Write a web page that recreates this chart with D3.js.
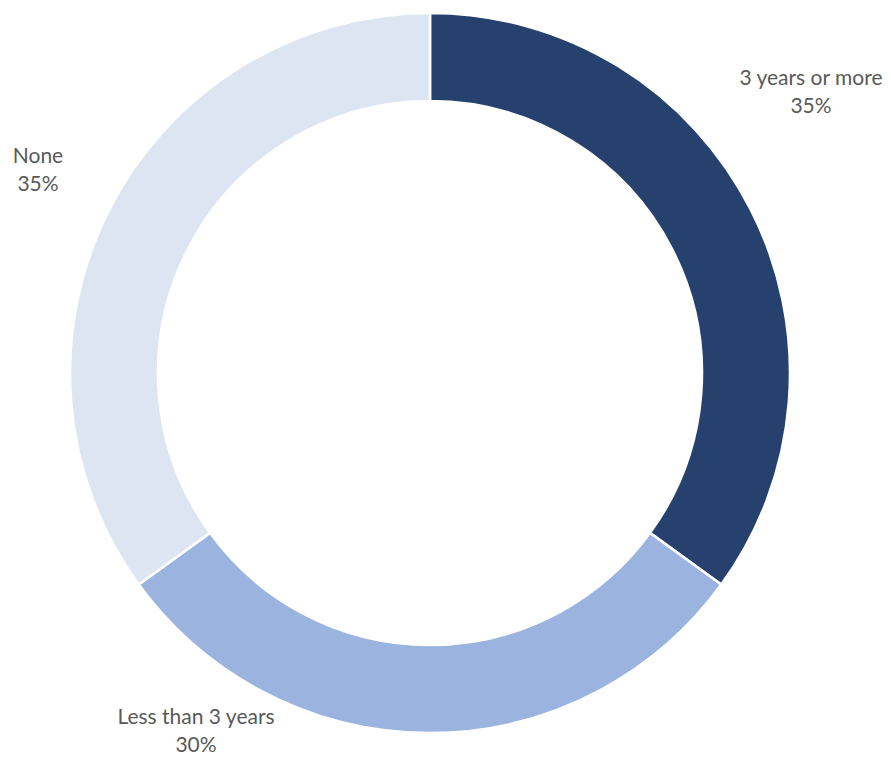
<!DOCTYPE html>
<html><head><meta charset="utf-8">
<script src="https://cdn.jsdelivr.net/npm/d3@7"></script>
<style>body{margin:0;background:#fff}svg{display:block}</style>
</head><body>
<svg id="chart" width="891" height="758"></svg>
<script>
const categories = ["3 years or more", "Less than 3 years", "None"];
const values = [35, 30, 35];
const colors = ["#26416E", "#9AB3DF", "#DEE5F2"];
const labelPos = [[811, 85], [196, 724], [38, 163]];

const svg = d3.select("#chart");
const cx = 430, cy = 373, rOuter = 360, rInner = 272;
const g = svg.append("g").attr("transform", `translate(${cx},${cy})`);
const pie = d3.pie().value(d => d).sort(null);
const arc = d3.arc().innerRadius(rInner).outerRadius(rOuter);
g.selectAll("path").data(pie(values)).join("path")
  .attr("d", arc).attr("fill", (d, i) => colors[i])
  .attr("stroke", "#fff").attr("stroke-width", 2.5);

const lbl = svg.append("g").attr("font-family", "Lato, 'Open Sans', sans-serif")
  .attr("font-size", 21).attr("fill", "#595959").attr("text-anchor", "middle");
categories.forEach((c, i) => {
  const t = lbl.append("text").attr("x", labelPos[i][0]).attr("y", labelPos[i][1]);
  t.append("tspan").attr("x", labelPos[i][0]).text(c);
  t.append("tspan").attr("x", labelPos[i][0]).attr("dy", 28).text(values[i] + "%");
});
</script>
</body></html>
